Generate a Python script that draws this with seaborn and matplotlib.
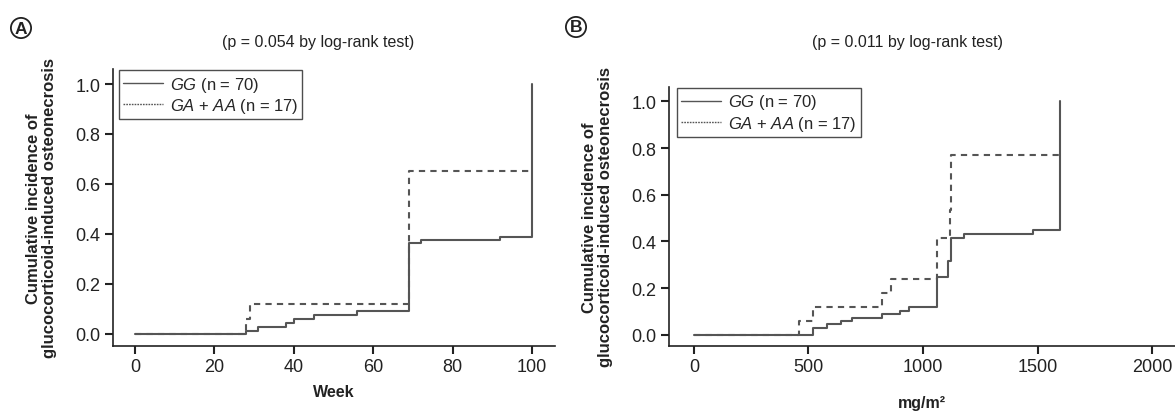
import numpy as np
import pandas as pd
import matplotlib
matplotlib.use("Agg")
import matplotlib.pyplot as plt
import seaborn as sns

# ================
# Data
# ================
gg_week = [0, 28, 31, 38, 40, 45, 56, 69, 72, 92, 100]
gg_week_inc = [0, 0.014, 0.029, 0.045, 0.060, 0.076, 0.091, 0.363, 0.375, 0.390, 1.0]
ga_week = [0, 28, 29, 69, 100]
ga_week_inc = [0, 0.059, 0.122, 0.653, 0.653]

gg_dose = [0, 521, 579, 642, 691, 822, 899, 940, 1060, 1111, 1121, 1180, 1479, 1598]
gg_dose_inc = [0, 0.031, 0.046, 0.060, 0.074, 0.089, 0.103, 0.117, 0.246, 0.318, 0.415, 0.434, 0.447, 1.0]
ga_dose = [0, 458, 521, 822, 860, 1060, 1118, 1121, 1598]
ga_dose_inc = [0, 0.059, 0.119, 0.177, 0.237, 0.415, 0.534, 0.770, 0.770]

week_ticks = [0, 20, 40, 60, 80, 100]
dose_ticks = [0, 500, 1000, 1500, 2000]
y_ticks = [0.0, 0.2, 0.4, 0.6, 0.8, 1.0]

labels = [r"$\it{GG}$ (n = 70)", r"$\it{GA}$ + $\it{AA}$ (n = 17)"]
p_texts = ["(p = 0.054 by log-rank test)", "(p = 0.011 by log-rank test)"]
ylab = "Cumulative incidence of\nglucocorticoid-induced osteonecrosis"

# ================
# Style
# ================
sns.set_style("ticks")
plt.rcParams["font.family"] = ["Liberation Sans", "DejaVu Sans"]
plt.rcParams["mathtext.fontset"] = "custom"
plt.rcParams["mathtext.rm"] = "Liberation Sans"
plt.rcParams["mathtext.it"] = "Liberation Sans:italic"

line_col = "#555555"
ax_col = "#222222"

W, H = 1175, 414
fig = plt.figure(figsize=(W / 100, H / 100), dpi=100)


def px_axes(l, r, t, b):
    return fig.add_axes([l / W, 1 - b / H, (r - l) / W, (b - t) / H])


def km_panel(ax, x1, y1, x2, y2, xlim, ylim, xticks, xlabel, legend_w, xpad):
    df1 = pd.DataFrame({"x": x1, "y": y1})
    df2 = pd.DataFrame({"x": x2, "y": y2})
    sns.lineplot(data=df1, x="x", y="y", ax=ax, color=line_col, lw=1.5,
                 drawstyle="steps-post", estimator=None, sort=False, label=labels[0])
    sns.lineplot(data=df2, x="x", y="y", ax=ax, color=line_col, lw=1.5, dashes=(3, 2.5),
                 drawstyle="steps-post", estimator=None, sort=False, label=labels[1])
    ax.set_xlim(*xlim)
    ax.set_ylim(*ylim)
    ax.set_xticks(xticks)
    ax.set_yticks(y_ticks)
    ax.set_yticklabels([f"{v:.1f}" for v in y_ticks])
    for s in ["top", "right"]:
        ax.spines[s].set_visible(False)
    for s in ["left", "bottom"]:
        ax.spines[s].set_color(ax_col)
        ax.spines[s].set_linewidth(1.2)
    ax.tick_params(axis="both", direction="out", length=6, width=1.5, color=ax_col,
                   labelsize=13, labelcolor="#222222", pad=3)
    ax.set_xlabel(xlabel, fontsize=11.5, fontweight="bold", color="#222222", labelpad=xpad)
    ax.set_ylabel(ylab, fontsize=12, fontweight="bold", color="#222222", labelpad=13,
                  linespacing=1.15)
    leg = ax.legend(loc="upper left", bbox_to_anchor=(legend_w, 0.995), borderaxespad=0,
                    fontsize=12, handlelength=2.4, handletextpad=0.4, borderpad=0.25,
                    labelspacing=0.15, fancybox=False, frameon=True)
    leg.get_frame().set_edgecolor("#222222")
    leg.get_frame().set_linewidth(1.0)
    hl = leg.get_lines()
    hl[0].set_linewidth(1.0)
    hl[1].set_linewidth(1.0)
    hl[1].set_dashes((1.2, 0.8))


axA = px_axes(113, 555, 70, 347)
km_panel(axA, gg_week, gg_week_inc, ga_week, ga_week_inc,
         (-5.5, 105.8), (-0.048, 1.06), week_ticks, "Week", 0.013, 6)

axB = px_axes(669, 1175, 88, 347)
km_panel(axB, gg_dose, gg_dose_inc, ga_dose, ga_dose_inc,
         (-109, 2100), (-0.048, 1.062), dose_ticks, "mg/m²", 0.016, 14)

# p-value captions
fig.text(318 / W, 1 - 43 / H, p_texts[0], ha="center", va="center", fontsize=11.5, color="#222222")
fig.text(908 / W, 1 - 43 / H, p_texts[1], ha="center", va="center", fontsize=11.5, color="#222222")

# circled panel letters
for cx, cy, lt in [(21, 29, "A"), (576, 28, "B")]:
    fig.text(cx / W, 1 - cy / H, lt, ha="center", va="center", fontsize=12.5, fontweight="bold",
             color="#222222",
             bbox=dict(boxstyle="circle,pad=0.15", fc="white", ec="#222222", lw=1.3))

fig.savefig("out.png", dpi=100)
